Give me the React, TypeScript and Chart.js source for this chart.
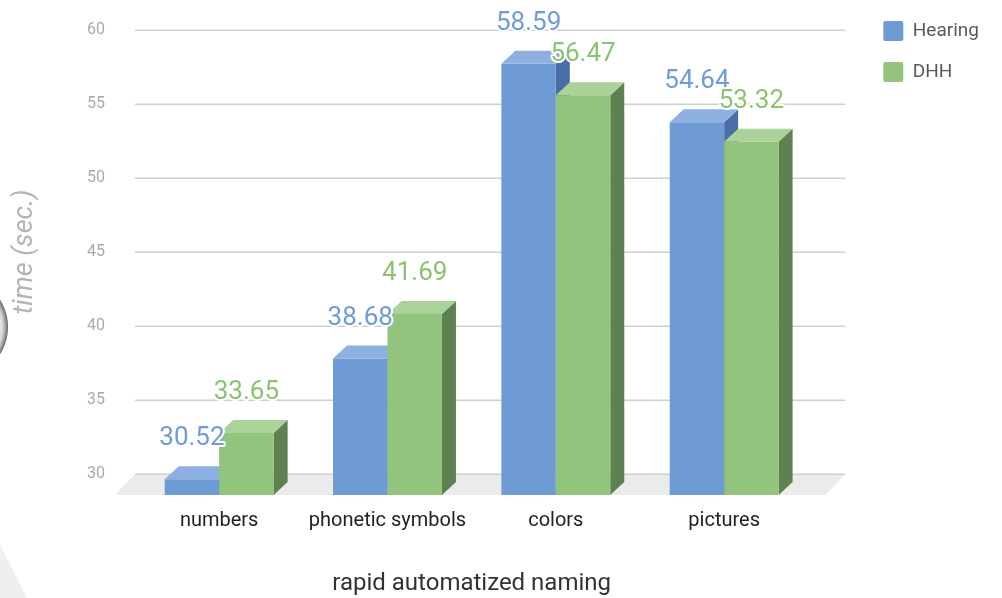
import { useEffect, useRef } from 'react';
import { Chart, registerables } from 'chart.js';

Chart.register(...registerables);
Chart.defaults.font.family = 'Roboto';

// ---- data ----
const categories = ['numbers', 'phonetic symbols', 'colors', 'pictures'];
const seriesNames = ['Hearing', 'DHH'];
const hearingTimes = [30.52, 38.68, 58.59, 54.64];
const dhhTimes = [33.65, 41.69, 56.47, 53.32];
const yTicks = [30, 35, 40, 45, 50, 55, 60];

// front / top / side shades of each 3D bar, plus value-label colour
const palette = [
  { front: '#6f9bd5', top: '#8db0e1', side: '#4a6ea6', label: '#6f9bd8' },
  { front: '#93c47d', top: '#aad299', side: '#5f804f', label: '#8cc273' },
];

// 3D projection offsets (pixels)
const DEPTH_X = 14;
const DEPTH_Y = 13;
const FLOOR_DEPTH = 21;
const FLOOR_SHIFT = 20;
const GRID_RUN = 37;

// grey shapes of the slide background on the left edge
const slideDecor = {
  id: 'slideDecor',
  beforeDraw(chart: any) {
    const ctx = chart.ctx as CanvasRenderingContext2D;
    ctx.save();
    ctx.fillStyle = '#efefef';
    ctx.beginPath();
    ctx.moveTo(0, 545);
    ctx.lineTo(27, 598);
    ctx.lineTo(0, 598);
    ctx.closePath();
    ctx.fill();

    const g = ctx.createRadialGradient(-42, 327, 30, -42, 327, 50);
    g.addColorStop(0, 'rgba(210,210,210,0)');
    g.addColorStop(0.7, 'rgba(160,160,160,0.35)');
    g.addColorStop(1, 'rgba(80,80,80,0.9)');
    ctx.fillStyle = g;
    ctx.beginPath();
    ctx.arc(-42, 327, 50, 0, Math.PI * 2);
    ctx.fill();
    ctx.restore();
  },
};

// floor, back-wall grid lines and extruded bars with value labels
const bars3d = {
  id: 'bars3d',
  beforeDatasetsDraw(chart: any) {
    const { ctx, chartArea, scales } = chart;
    const y = scales.y;
    const base = y.getPixelForValue(y.min);
    const left = chartArea.left;
    const right = chartArea.right + GRID_RUN;
    ctx.save();
    ctx.fillStyle = '#ebebeb';
    ctx.beginPath();
    ctx.moveTo(left, base);
    ctx.lineTo(right, base);
    ctx.lineTo(right - FLOOR_SHIFT, base + FLOOR_DEPTH);
    ctx.lineTo(left - FLOOR_SHIFT, base + FLOOR_DEPTH);
    ctx.closePath();
    ctx.fill();

    ctx.strokeStyle = '#cfcfcf';
    ctx.lineWidth = 1.5;
    for (const t of y.ticks) {
      const py = Math.round(y.getPixelForValue(t.value)) + 0.25;
      ctx.beginPath();
      ctx.moveTo(left, py);
      ctx.lineTo(right, py);
      ctx.stroke();
    }
    ctx.restore();
  },
  beforeDatasetDraw() {
    return false;
  },
  afterDatasetsDraw(chart: any) {
    const ctx = chart.ctx as CanvasRenderingContext2D;
    const yScale = chart.scales.y;
    const floorY = yScale.getPixelForValue(yScale.min);
    const metas = chart.data.datasets.map((_: any, i: number) => chart.getDatasetMeta(i));
    ctx.save();
    for (let c = 0; c < categories.length; c++) {
      metas.forEach((meta: any, d: number) => {
        const el = meta.data[c];
        if (!el) return;
        const { x, y, width } = el.getProps(['x', 'y', 'width'], true);
        const col = palette[d];
        const l = x - width / 2;
        const r = x + width / 2;
        const ft = y + DEPTH_Y;
        const fb = floorY + FLOOR_DEPTH;
        // side
        ctx.fillStyle = col.side;
        ctx.beginPath();
        ctx.moveTo(r, ft);
        ctx.lineTo(r + DEPTH_X, y);
        ctx.lineTo(r + DEPTH_X, fb - DEPTH_Y);
        ctx.lineTo(r, fb);
        ctx.closePath();
        ctx.fill();
        // top
        ctx.fillStyle = col.top;
        ctx.beginPath();
        ctx.moveTo(l, ft);
        ctx.lineTo(l + DEPTH_X, y);
        ctx.lineTo(r + DEPTH_X, y);
        ctx.lineTo(r, ft);
        ctx.closePath();
        ctx.fill();
        // front
        ctx.fillStyle = col.front;
        ctx.fillRect(l, ft, width, fb - ft);
      });
    }

    ctx.font = '26px Roboto';
    ctx.textAlign = 'center';
    ctx.textBaseline = 'alphabetic';
    ctx.lineJoin = 'round';
    metas.forEach((meta: any, d: number) => {
      const values = chart.data.datasets[d].data as number[];
      meta.data.forEach((el: any, i: number) => {
        const { x, y } = el.getProps(['x', 'y'], true);
        const text = values[i].toFixed(2);
        ctx.strokeStyle = '#ffffff';
        ctx.lineWidth = 4;
        ctx.strokeText(text, x, y - 21);
        ctx.fillStyle = palette[d].label;
        ctx.fillText(text, x, y - 21);
      });
    });
    ctx.restore();
  },
};

export default function App() {
  const canvasRef = useRef<HTMLCanvasElement>(null);

  useEffect(() => {
    const canvas = canvasRef.current;
    if (!canvas) return;
    const chart = new Chart(canvas, {
      type: 'bar',
      data: {
        labels: categories,
        datasets: [
          { label: seriesNames[0], data: hearingTimes, backgroundColor: palette[0].front, borderWidth: 0 },
          { label: seriesNames[1], data: dhhTimes, backgroundColor: palette[1].front, borderWidth: 0 },
        ],
      },
      options: {
        responsive: false,
        animation: false,
        layout: { padding: { top: 0, right: 13, bottom: 0, left: 0 } },
        datasets: { bar: { categoryPercentage: 0.647, barPercentage: 1 } },
        scales: {
          x: {
            grid: { display: false, drawTicks: false },
            border: { display: false },
            ticks: { color: '#222222', font: { size: 20 }, padding: 35 },
            title: {
              display: true,
              text: 'rapid automatized naming',
              color: '#333333',
              font: { size: 24 },
              padding: { top: 0, bottom: 0 },
            },
            afterFit: (s: any) => {
              s.height = 124;
            },
          },
          y: {
            min: 30,
            max: 60,
            grid: { display: false, drawTicks: false },
            border: { display: false },
            ticks: { color: '#aaaaaa', font: { size: 16 }, padding: 30 },
            afterBuildTicks: (s: any) => {
              s.ticks = yTicks.map((v) => ({ value: v }));
            },
            title: {
              display: true,
              text: 'time (sec.)',
              color: '#b4b4b4',
              font: { size: 27, style: 'italic' },
              padding: { top: 9, bottom: 0 },
            },
            afterFit: (s: any) => {
              s.width = 135;
              s.paddingTop = 30;
            },
          },
          // spacer between plot and legend
          gap: {
            type: 'linear',
            position: 'right',
            display: true,
            grid: { display: false, drawTicks: false },
            border: { display: false },
            ticks: { display: false },
            afterFit: (s: any) => {
              s.width = 54;
            },
          },
        },
        plugins: {
          legend: {
            position: 'right',
            align: 'start',
            labels: {
              boxWidth: 20,
              boxHeight: 20,
              padding: 21,
              color: '#5a5a5a',
              font: { size: 19 },
              useBorderRadius: true,
              borderRadius: 2,
            },
          },
          tooltip: { enabled: false },
        },
      },
      plugins: [slideDecor, bars3d],
    } as any);
    return () => chart.destroy();
  }, []);

  return (
    <div style={{ position: 'absolute', left: 0, top: 0, width: 1002, height: 598, background: '#ffffff' }}>
      <canvas ref={canvasRef} width={1002} height={598} style={{ display: 'block' }} />
    </div>
  );
}
